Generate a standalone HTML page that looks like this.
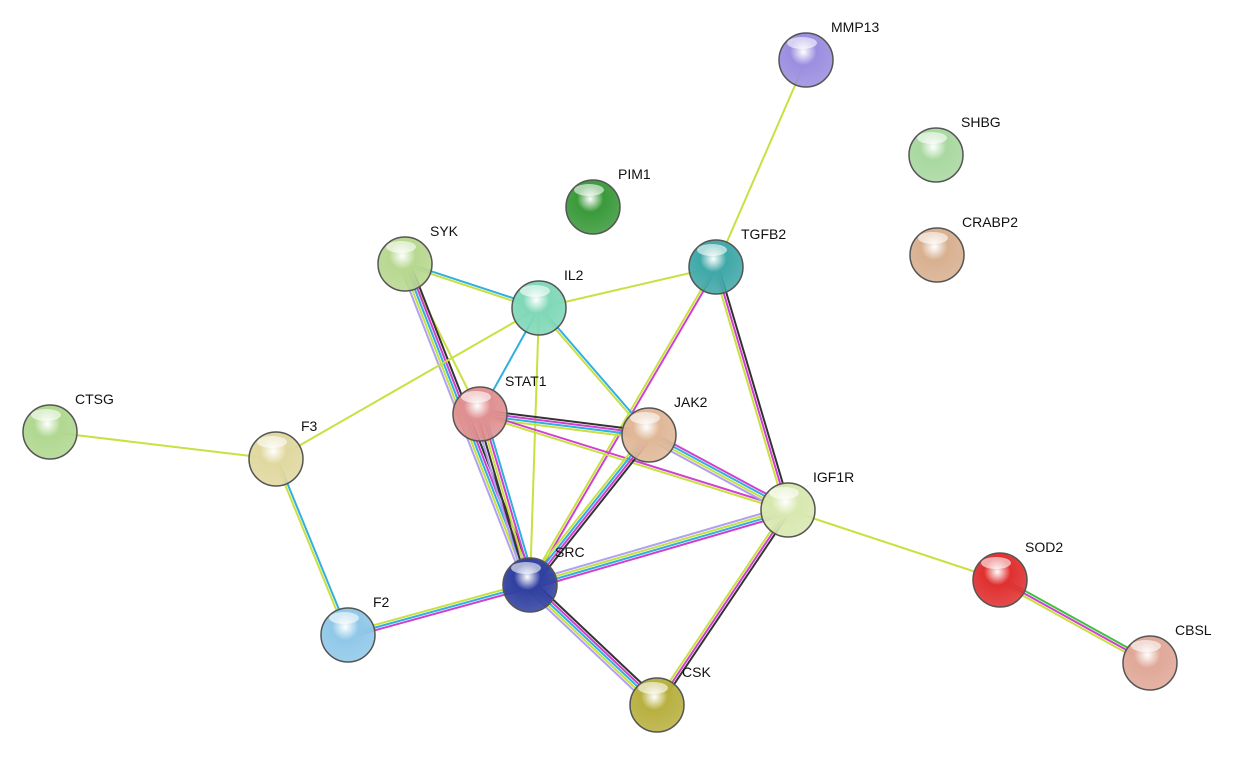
<!DOCTYPE html>
<html><head><meta charset="utf-8"><style>
html,body{margin:0;padding:0;background:#fff;}
svg text{font-family:"Liberation Sans",sans-serif;font-size:14px;fill:#111;}
</style></head><body>
<svg width="1238" height="768" viewBox="0 0 1238 768" xmlns="http://www.w3.org/2000/svg">
<defs id="d"></defs>
<g id="edges"></g>
<g id="nodes"></g>
</svg>
<script>
const N={
MMP13:[806,60,'#9b8ee0'],SHBG:[936,155,'#a8d8a0'],PIM1:[593,207,'#3a9a3a'],CRABP2:[937,255,'#d8b090'],
SYK:[405,264,'#b8d890'],TGFB2:[716,267,'#40a8a8'],IL2:[539,308,'#80d8b8'],CTSG:[50,432,'#b0d890'],
F3:[276,459,'#e0d8a0'],STAT1:[480,414,'#e09090'],JAK2:[649,435,'#e0b898'],IGF1R:[788,510,'#d8e8b0'],
SOD2:[1000,580,'#e03030'],SRC:[530,585,'#3040a0'],F2:[348,635,'#90c8e8'],CSK:[657,705,'#b8b040'],CBSL:[1150,663,'#e0a898']};
const C={y:'#c8e040',k:'#333',m:'#d040d0',c:'#30b0e0',l:'#b0a0f0',g:'#40c040'};
const E=[['MMP13','TGFB2','y'],['TGFB2','IL2','y'],['TGFB2','SRC','my'],['TGFB2','IGF1R','kmy'],
['SYK','IL2','cy'],['SYK','STAT1','y'],['SYK','SRC','kmcyl'],['IL2','F3','y'],['IL2','STAT1','c'],
['IL2','SRC','y'],['IL2','JAK2','cy'],['CTSG','F3','y'],['F3','F2','cy'],['STAT1','JAK2','kmcy'],
['STAT1','IGF1R','my'],['STAT1','SRC','cmykl'],['JAK2','IGF1R','mcyl'],['JAK2','SRC','kmcy'],
['IGF1R','SRC','mcyl'],['IGF1R','CSK','kmy'],['IGF1R','SOD2','y'],['SRC','F2','mcy'],
['SRC','CSK','kmcyl'],['SOD2','CBSL','gmy']];
const ns='http://www.w3.org/2000/svg';
let eg=document.getElementById('edges'),ng=document.getElementById('nodes'),d=document.getElementById('d');
function el(t,a,p){let e=document.createElementNS(ns,t);for(let k in a)e.setAttribute(k,a[k]);p.appendChild(e);return e;}
E.forEach(([a,b,s])=>{let [x1,y1]=N[a],[x2,y2]=N[b];let dx=x2-x1,dy=y2-y1,L=Math.hypot(dx,dy);let px=-dy/L,py=dx/L;
let n=s.length;for(let i=0;i<n;i++){let o=(i-(n-1)/2)*2.6;el('line',{x1:x1+px*o,y1:y1+py*o,x2:x2+px*o,y2:y2+py*o,stroke:C[s[i]],'stroke-width':2},eg);}});
let i=0;for(let k in N){let [x,y,c]=N[k];let id='g'+(i++);
let g=el('radialGradient',{id:id,cx:'0.45',cy:'0.35',r:'0.7'},d);
el('stop',{offset:'0','stop-color':'#fff'},g);el('stop',{offset:'0.35','stop-color':c},g);el('stop',{offset:'1','stop-color':c,'stop-opacity':'0.85'},g);
el('circle',{cx:x,cy:y,r:27,fill:'url(#'+id+')',stroke:'#555','stroke-width':1.5},ng);
el('ellipse',{cx:x-4,cy:y-17,rx:15,ry:6,fill:'#fff',opacity:0.6},ng);
let t=el('text',{x:x+25,y:y-28},ng);t.textContent=k;}
</script>
</body></html>
